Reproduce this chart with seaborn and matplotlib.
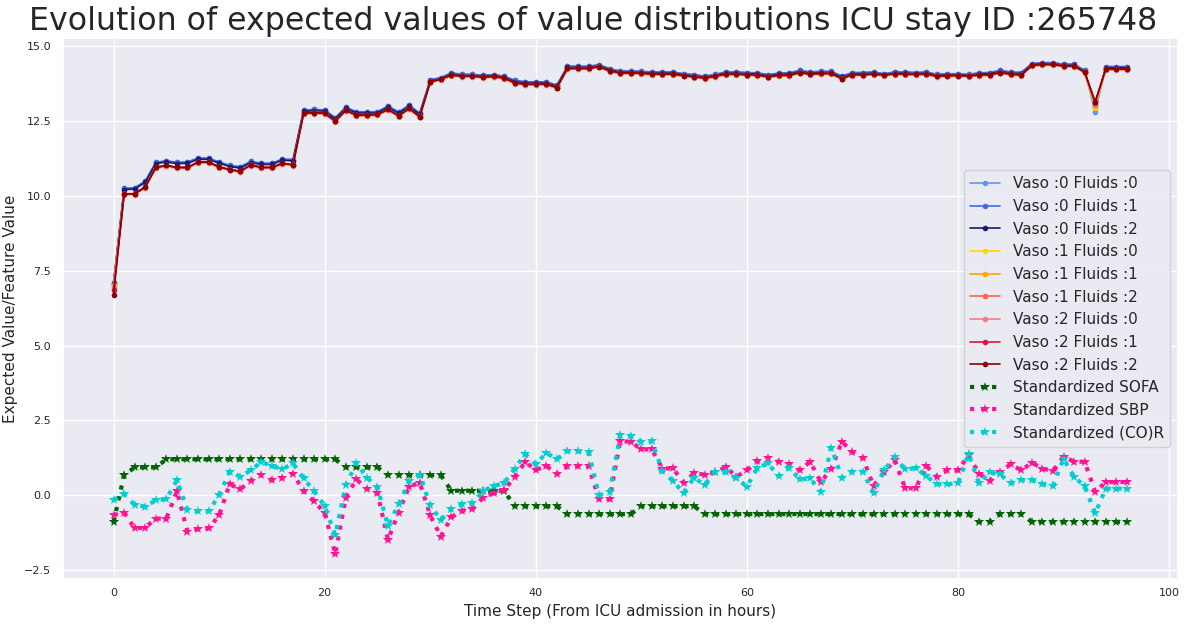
import numpy as np
import matplotlib
matplotlib.use("Agg")
import matplotlib.pyplot as plt
import seaborn as sns

time_steps = list(range(97))

# expected values, upper band (Vaso 0) and lower band (Vaso 1/2)
ev_upper = [
    7.10, 10.25, 10.27, 10.49, 11.12, 11.17, 11.12, 11.13, 11.26, 11.26,
    11.13, 11.02, 10.97, 11.15, 11.09, 11.09, 11.23, 11.21, 12.86, 12.89,
    12.87, 12.61, 12.96, 12.81, 12.81, 12.81, 13.00, 12.80, 13.03, 12.76,
    13.88, 13.95, 14.11, 14.06, 14.06, 14.03, 14.05, 14.00, 13.86, 13.81,
    13.81, 13.81, 13.70, 14.33, 14.33, 14.33, 14.38, 14.25, 14.17, 14.17,
    14.16, 14.14, 14.14, 14.14, 14.08, 14.05, 14.00, 14.06, 14.14, 14.14,
    14.12, 14.11, 14.05, 14.10, 14.11, 14.19, 14.14, 14.16, 14.16, 14.00,
    14.12, 14.12, 14.14, 14.08, 14.14, 14.14, 14.12, 14.14, 14.06, 14.08,
    14.08, 14.06, 14.11, 14.12, 14.19, 14.14, 14.12, 14.42, 14.45, 14.45,
    14.40, 14.40, 14.19, 12.90, 14.32, 14.32, 14.32,
]
ev_lower = [
    6.80, 10.07, 10.07, 10.30, 10.95, 11.02, 10.95, 10.95, 11.13, 11.13,
    10.97, 10.88, 10.82, 11.04, 10.95, 10.95, 11.09, 11.04, 12.76, 12.78,
    12.76, 12.50, 12.86, 12.70, 12.70, 12.72, 12.89, 12.68, 12.92, 12.65,
    13.81, 13.90, 14.04, 14.00, 14.00, 13.97, 13.99, 13.94, 13.78, 13.73,
    13.73, 13.74, 13.62, 14.26, 14.26, 14.26, 14.32, 14.18, 14.11, 14.11,
    14.10, 14.07, 14.07, 14.07, 14.02, 13.98, 13.94, 14.00, 14.07, 14.07,
    14.05, 14.04, 13.98, 14.03, 14.03, 14.12, 14.07, 14.09, 14.09, 13.92,
    14.05, 14.05, 14.07, 14.04, 14.08, 14.07, 14.06, 14.08, 14.00, 14.02,
    14.02, 14.01, 14.04, 14.05, 14.12, 14.07, 14.04, 14.36, 14.39, 14.39,
    14.34, 14.34, 14.14, 13.10, 14.24, 14.24, 14.24,
]

line_labels = [
    "Vaso :0 Fluids :0", "Vaso :0 Fluids :1", "Vaso :0 Fluids :2",
    "Vaso :1 Fluids :0", "Vaso :1 Fluids :1", "Vaso :1 Fluids :2",
    "Vaso :2 Fluids :0", "Vaso :2 Fluids :1", "Vaso :2 Fluids :2",
]
line_colors = [
    "cornflowerblue", "royalblue", "midnightblue",
    "gold", "orange", "tomato",
    "lightcoral", "crimson", "darkred",
]
line_band = ["upper", "upper", "upper", "lower", "lower", "lower", "lower", "lower", "lower"]
line_shift = [0.0, 0.0, -0.04, -0.02, -0.01, 0.0, -0.03, 0.0, 0.0]
# values at first step and at the dip (step 93), per line
ev_start = [7.12, 7.10, 7.05, 7.02, 6.98, 6.92, 6.95, 6.85, 6.70]
ev_dip = [12.80, 12.92, 13.00, 12.95, 13.00, 13.08, 13.05, 13.12, 13.15]

sofa = [
    -0.89, 0.67, 0.93, 0.93, 0.93, 1.20, 1.20, 1.20, 1.20, 1.20,
    1.20, 1.20, 1.20, 1.20, 1.20, 1.20, 1.20, 1.20, 1.20, 1.20,
    1.20, 1.20, 0.93, 0.93, 0.93, 0.93, 0.67, 0.67, 0.67, 0.67,
    0.67, 0.67, 0.15, 0.15, 0.15, 0.15, 0.15, 0.15, -0.37, -0.37,
    -0.37, -0.37, -0.37, -0.63, -0.63, -0.63, -0.63, -0.63, -0.63, -0.63,
    -0.37, -0.37, -0.37, -0.37, -0.37, -0.37, -0.63, -0.63, -0.63, -0.63,
    -0.63, -0.63, -0.63, -0.63, -0.63, -0.63, -0.63, -0.63, -0.63, -0.63,
    -0.63, -0.63, -0.63, -0.63, -0.63, -0.63, -0.63, -0.63, -0.63, -0.63,
    -0.63, -0.63, -0.89, -0.89, -0.63, -0.63, -0.63, -0.89, -0.89, -0.89,
    -0.89, -0.89, -0.89, -0.89, -0.89, -0.89, -0.89,
]
sbp = [
    -0.66, -0.58, -1.11, -1.08, -0.78, -0.78, 0.14, -1.22, -1.13, -1.11,
    -0.67, 0.37, 0.20, 0.48, 0.68, 0.50, 0.57, 0.72, 0.14, -0.21,
    -0.58, -1.97, -0.08, 0.53, 0.22, 0.07, -1.49, -0.58, 0.28, 0.42,
    -0.67, -1.38, -0.74, -0.52, -0.47, -0.08, 0.07, 0.17, 0.61, 1.11,
    0.84, 0.98, 0.70, 0.96, 0.96, 0.96, -0.13, -0.13, 1.80, 1.79,
    1.53, 1.53, 0.89, 0.90, 0.42, 0.73, 0.69, 0.76, 0.94, 0.62,
    0.83, 1.13, 1.23, 1.12, 1.03, 0.83, 1.12, 0.44, 0.87, 1.79,
    1.44, 1.23, 0.31, 0.76, 1.18, 0.23, 0.23, 0.98, 0.62, 0.83,
    0.83, 1.33, 0.72, 0.48, 0.79, 1.03, 0.83, 1.09, 0.89, 0.81,
    1.29, 1.12, 1.12, 0.11, 0.44, 0.44, 0.44,
]
cor = [
    -0.16, 0.04, -0.33, -0.38, -0.17, -0.13, 0.50, -0.49, -0.54, -0.54,
    0.00, 0.79, 0.62, 0.83, 1.11, 0.98, 0.87, 1.06, 0.56, 0.14,
    -0.36, -1.33, 0.33, 1.07, 0.59, 0.26, -1.02, -0.31, 0.46, 0.68,
    -0.33, -0.82, -0.47, -0.31, -0.27, 0.14, 0.31, 0.40, 0.89, 1.37,
    1.03, 1.42, 1.20, 1.47, 1.47, 1.44, 0.00, 0.11, 2.01, 1.98,
    1.78, 1.80, 0.81, 0.48, 0.07, 0.59, 0.34, 0.79, 0.76, 0.57,
    0.29, 0.92, 1.06, 0.64, 0.92, 0.53, 0.56, 0.12, 1.59, 0.59,
    0.79, 0.78, 0.07, 0.84, 1.26, 0.87, 0.90, 0.64, 0.37, 0.37,
    0.40, 1.37, 0.40, 0.76, 0.70, 0.40, 0.51, 0.50, 0.37, 0.31,
    1.22, 0.61, 0.31, -0.61, 0.22, 0.22, 0.22,
]

sns.set_theme(style="darkgrid")
fig, ax = plt.subplots(figsize=(11.87, 6.25), dpi=100)

bands = {"upper": ev_upper, "lower": ev_lower}
for i, label in enumerate(line_labels):
    vals = np.array(bands[line_band[i]]) + line_shift[i]
    vals[0] = ev_start[i]
    vals[93] = ev_dip[i]
    sns.lineplot(x=time_steps, y=vals, ax=ax, color=line_colors[i], label=label,
                 marker="o", markersize=4, markeredgewidth=0, linewidth=1.2)

feature_series = [("Standardized SOFA", sofa, "darkgreen"),
                  ("Standardized SBP", sbp, "deeppink"),
                  ("Standardized (CO)R", cor, "darkturquoise")]
for label, vals, col in feature_series:
    sns.lineplot(x=time_steps, y=vals, ax=ax, color=col, label=label,
                 linestyle=":", linewidth=3, marker="*", markersize=7,
                 markeredgewidth=0)

fig.suptitle("Evolution of expected values of value distributions ICU stay ID :265748",
             fontsize=22.8, y=0.99)
ax.set_xlabel("Time Step (From ICU admission in hours)", fontsize=11)
ax.set_ylabel("Expected Value/Feature Value", fontsize=11)
ax.tick_params(axis="x", labelsize=8, length=0, pad=7)
ax.tick_params(axis="y", labelsize=8, length=0, pad=8.5)
ax.legend(loc="center right", fontsize=11)

fig.subplots_adjust(left=0.053, right=0.992, top=0.939, bottom=0.074)
fig.savefig("out.png", dpi=100)
